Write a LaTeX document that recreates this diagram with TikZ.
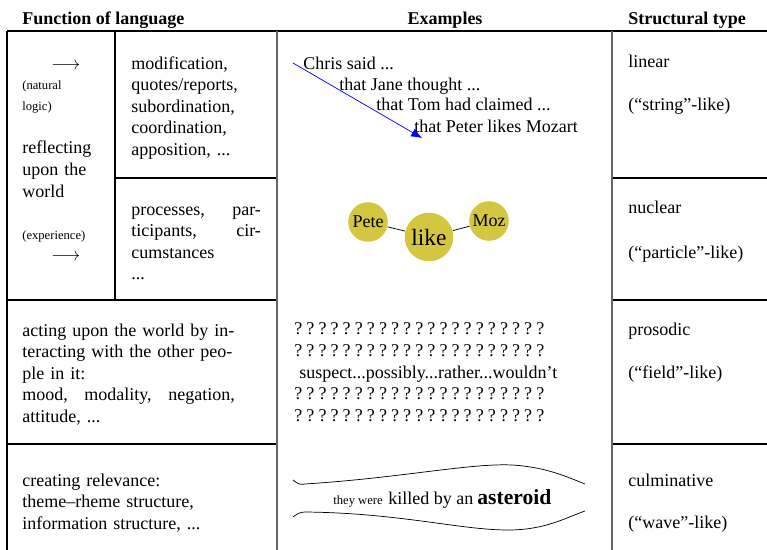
\documentclass[tikz,border=0pt]{standalone}
\usepackage{fontspec}
\setmainfont{Liberation Serif}
\usetikzlibrary{arrows.meta,positioning}
\definecolor{nucl}{RGB}{213,198,66}
\newcommand{\qm}{\makebox[6.72pt][l]{?}}
\newcommand{\qs}{\qm\qm\qm\qm\qm\qm\qm\qm\qm\qm\qm\qm\qm\qm\qm\qm\qm\qm\qm\qm\qm}

\begin{document}
\begin{tikzpicture}[x=0.5556pt,y=-0.5556pt,
    txt/.style={anchor=base west,inner sep=0pt,align=left},
    sm/.style={txt,font=\fontsize{7}{12}\selectfont},
    rule/.style={line width=0.6pt},
    grule/.style={line width=0.9pt,black!60},
    ball/.style={circle,fill=nucl,inner sep=0pt,minimum size=22pt}]
  \useasboundingbox (0,0) rectangle (767,550);
  % table
  \draw[rule] (7,31) -- (767,31);
  \draw[rule] (115,178) -- (277,178) (612,178) -- (767,178);
  \draw[rule] (7,300) -- (277,300) (612,300) -- (767,300);
  \draw[rule] (7,444) -- (277,444) (612,444) -- (767,444);
  \draw[rule] (7,31) -- (7,550) (115,31) -- (115,300);
  \draw[grule] (277,31) -- (277,550) (612,31) -- (612,550);
  % headers
  \node[txt,font=\bfseries] (hfun) at (22,24) {Function of language};
  \node[anchor=base,inner sep=0pt,font=\bfseries] (hex) at (445,24) {Examples};
  \node[txt,font=\bfseries] (htype) at (628,24) {Structural type};
  % function of language
  \node[txt] (arrlog) at (51,69) {$\longrightarrow$};
  \node[sm,text width=40pt] (nat) at (22,89) {(natural\\logic)};
  \node[txt,text width=55pt] (refl) at (22,154) {reflecting\\upon the\\world};
  \node[sm] (exper) at (22,239) {(experience)};
  \node[txt] (arrexp) at (51,261) {$\longrightarrow$};
  \node[txt,text width=82pt] (mods) at (131,69) {modification,\\quotes/reports,\\subordination,\\coordination,\\apposition, ...};
  \node[txt,text width=72pt] (proc) at (131,215) {processes,\hfill par-\\ticipants,\hfill cir-\\cumstances\\...};
  \node[txt,text width=118pt] (act) at (22,336) {acting upon the world by in-\\teracting with the other peo-\\ple in it:\\mood,\hfill modality,\hfill negation,\\attitude, ...};
  \node[txt,text width=125pt] (rel) at (22,486) {creating relevance:\\theme--rheme structure,\\information structure, ...};
  % examples: linear
  \node[txt] (chris) at (303,69) {Chris said ...};
  \node[txt] (jane) at (339,90) {that Jane thought ...};
  \node[txt] (tom) at (376,111) {that Tom had claimed ...};
  \node[txt] (peter) at (414,132) {that Peter likes Mozart};
  \coordinate (lstart) at (293,63);
  \coordinate (lend) at (422,138);
  \draw[blue,-{Latex[length=6pt,width=5pt]}] (lstart) -- (lend);
  % examples: nuclear
  \node[ball] (pete) at (368,222) {Pete};
  \node[ball,minimum size=27pt,font=\fontsize{13}{15}\selectfont] (like) at (429,237) {like};
  \node[ball] (moz) at (489,221) {Moz};
  \draw (pete) -- (like) -- (moz);
  % examples: prosodic
  \node[txt] (q1) at (294,334) {\qs};
  \node[txt] (q2) at (294,356) {\qs};
  \node[txt] (susp) at (299,378) {suspect...possibly...rather...wouldn't};
  \node[txt] (q3) at (294,399) {\qs};
  \node[txt] (q4) at (294,421) {\qs};
  % examples: culminative
  \draw (293,480) .. controls (298,484) and (300,485) .. (305,484)
    .. controls (400,478) and (470,463) .. (512,465)
    .. controls (545,467) and (565,476) .. (585,484);
  \draw (293,517) .. controls (297,514) and (300,512) .. (305,512)
    .. controls (400,513) and (460,530) .. (508,530)
    .. controls (545,530) and (565,518) .. (585,511);
  \node[txt,font=\scriptsize] (they) at (333,504) {they were};
  \node[txt] (killed) at (388,504) {killed by an};
  \node[txt,font=\large\bfseries] (ast) at (477,504) {asteroid};
  % structural types
  \node[txt] (lin) at (628,68) {linear};
  \node[txt] (lin2) at (628,110) {(“string”-like)};
  \node[txt] (nuc) at (628,213) {nuclear};
  \node[txt] (nuc2) at (628,258) {(“particle”-like)};
  \node[txt] (pros) at (628,335) {prosodic};
  \node[txt] (pros2) at (628,378) {(“field”-like)};
  \node[txt] (culm) at (628,486) {culminative};
  \node[txt] (culm2) at (628,528) {(“wave”-like)};
\end{tikzpicture}
\end{document}
